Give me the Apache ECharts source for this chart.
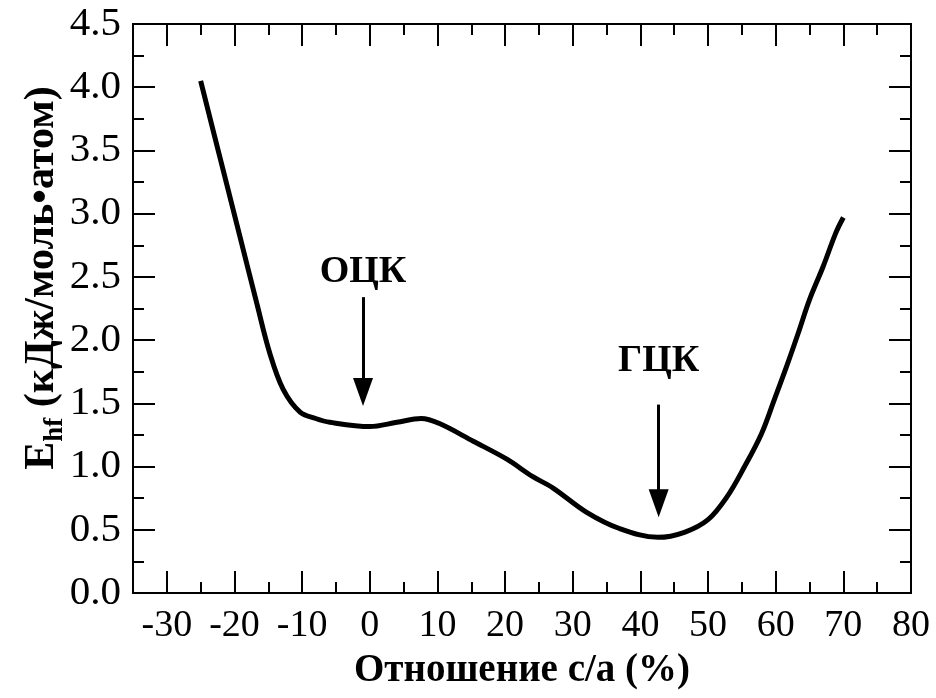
<!DOCTYPE html>
<html>
<head>
<meta charset="utf-8">
<script src="https://cdn.jsdelivr.net/npm/echarts@6/dist/echarts.min.js"></script>
<style>
  html, body { margin: 0; padding: 0; background: #fff; }
  #chart { width: 936px; height: 698px; }
</style>
</head>
<body>
<div id="chart"></div>
<script>
// Formation energy curve versus c/a ratio
const ratio  = [-25, -21.7, -19.2, -16.7, -14.8, -12.8, -10.3, -8, -5.9, 0, 4, 7.6, 10.3, 15.3, 20.2, 24.1, 27.1, 32, 36.9, 42.6, 46.5, 50, 52.8, 55.4, 57.9, 59.8, 61.6, 63.3, 65, 67, 68.9, 70];
const energy = [4.05, 3.35, 2.82, 2.29, 1.90, 1.61, 1.43, 1.38, 1.35, 1.316, 1.35, 1.38, 1.34, 1.20, 1.06, 0.92, 0.83, 0.64, 0.51, 0.44, 0.48, 0.58, 0.76, 1.00, 1.26, 1.53, 1.79, 2.05, 2.32, 2.58, 2.85, 2.97];

// Axis ticks
const xMajor = [-30, -20, -10, 0, 10, 20, 30, 40, 50, 60, 70, 80];
const xMinor = [-25, -15, -5, 5, 15, 25, 35, 45, 55, 65, 75];

// Phase annotations: name, arrow x, arrow top, arrow head, label y
const phaseNames  = ['ОЦК', 'ГЦК'];
const phaseX      = [-1, 42.7];
const arrowTop    = [2.34, 1.49];
const arrowEnd    = [1.59, 0.71];
const labelY      = [2.54, 1.83];

const FONT = "'Liberation Serif', 'Times New Roman', serif";

const series = ratio.map((x, i) => [x, energy[i]]);

const axisLineStyle = { show: true, onZero: false, lineStyle: { color: '#000', width: 2 } };

function xAxisDef(position, values, length, withLabels) {
  return {
    type: 'value', position: position, min: -35, max: 80,
    axisLine: axisLineStyle,
    axisTick: { show: true, inside: true, length: length, customValues: values, lineStyle: { color: '#000', width: 2 } },
    axisLabel: withLabels ? {
      show: true, customValues: values, color: '#000', fontFamily: FONT, fontSize: 38, margin: 14
    } : { show: false },
    splitLine: { show: false }
  };
}

function yAxisDef(position, withLabels) {
  return {
    type: 'value', position: position, min: 0, max: 4.5, interval: 0.5,
    axisLine: axisLineStyle,
    axisTick: { show: true, inside: true, length: 22, lineStyle: { color: '#000', width: 2 } },
    minorTick: { show: true, splitNumber: 2, length: 11, lineStyle: { color: '#000', width: 2 } },
    axisLabel: withLabels ? {
      show: true, color: '#000', fontFamily: FONT, fontSize: 41, margin: 12,
      formatter: v => v.toFixed(1)
    } : { show: false },
    splitLine: { show: false }
  };
}

const xBottom = xAxisDef('bottom', xMajor, 22, true);
xBottom.name = 'Отношение с/а (%)';
xBottom.nameLocation = 'middle';
xBottom.nameGap = 58;
xBottom.nameTextStyle = { color: '#000', fontFamily: FONT, fontWeight: 'bold', fontSize: 39 };

const option = {
  animation: false,
  backgroundColor: '#fff',
  grid: { left: 133, right: 25, top: 24, bottom: 105, containLabel: false },
  xAxis: [
    xBottom,
    xAxisDef('bottom', xMinor, 11, false),
    xAxisDef('top', xMajor, 22, false),
    xAxisDef('top', xMinor, 11, false)
  ],
  yAxis: [yAxisDef('left', true), yAxisDef('right', false)],
  graphic: [{
    type: 'text',
    x: 42, y: 278,
    rotation: Math.PI / 2,
    style: {
      text: '{a|E}{b|hf}{a| (кДж/моль•атом)}',
      align: 'center',
      verticalAlign: 'middle',
      fill: '#000',
      rich: {
        a: { fontFamily: FONT, fontWeight: 'bold', fontSize: 42, lineHeight: 54, verticalAlign: 'middle', fill: '#000' },
        b: { fontFamily: FONT, fontWeight: 'bold', fontSize: 27, lineHeight: 27, verticalAlign: 'bottom', fill: '#000' }
      }
    }
  }],
  series: [
    {
      type: 'line',
      data: series,
      smooth: 0.35,
      symbol: 'none',
      lineStyle: { color: '#000', width: 5 },
      markLine: {
        silent: true,
        symbol: ['none', 'triangle'],
        symbolSize: [20, 28],
        label: { show: false },
        lineStyle: { color: '#000', width: 3, type: 'solid' },
        itemStyle: { color: '#000' },
        data: phaseX.map((x, i) => [{ coord: [x, arrowTop[i]] }, { coord: [x, arrowEnd[i]] }])
      }
    },
    {
      type: 'scatter',
      symbolSize: 0,
      silent: true,
      itemStyle: { opacity: 1 },
      data: phaseNames.map((n, i) => ({ name: n, value: [phaseX[i], labelY[i]] })),
      label: {
        show: true, position: 'inside', formatter: p => p.name,
        color: '#000', fontFamily: FONT, fontWeight: 'bold', fontSize: 38
      }
    }
  ]
};

echarts.init(document.getElementById('chart')).setOption(option);
</script>
</body>
</html>
